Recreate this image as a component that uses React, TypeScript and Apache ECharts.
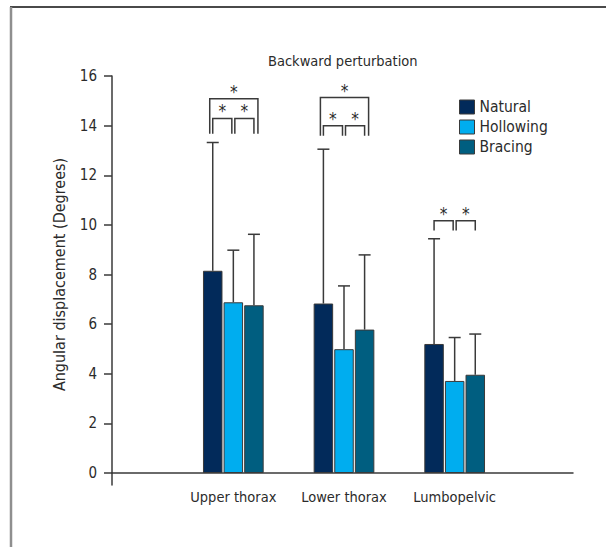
import React, { useEffect, useRef } from "react";
import * as echarts from "echarts";

const categories = ["Upper thorax", "Lower thorax", "Lumbopelvic"];
const seriesNames = ["Natural", "Hollowing", "Bracing"];
const seriesColors = ["#022a5a", "#00adef", "#005e80"];

const naturalMean = [8.15, 6.83, 5.2];
const hollowingMean = [6.88, 4.99, 3.71];
const bracingMean = [6.76, 5.78, 3.96];

const naturalUpper = [13.32, 13.05, 9.44];
const hollowingUpper = [8.98, 7.54, 5.46];
const bracingUpper = [9.62, 8.79, 5.6];

const yMin = 0;
const yMax = 16;
const yInterval = 2;

// significance brackets: category, from bar, to bar, top value, leg bottom value
const bracketCategory = [0, 0, 0, 1, 1, 1, 2, 2];
const bracketFrom = [0, 0, 1, 0, 0, 1, 0, 1];
const bracketTo = [2, 1, 2, 2, 1, 2, 1, 2];
const bracketTop = [15.08, 14.29, 14.29, 15.13, 14.0, 14.0, 10.17, 10.17];
const bracketBase = [13.67, 13.67, 13.67, 13.59, 13.59, 13.59, 9.77, 9.77];

const FONT = "'DejaVu Sans Condensed', 'Liberation Sans', sans-serif";
const TEXT = "#2b2b2b";
const LINE = "#3a3a3a";
const BAR_W = 19.5;
const GAP_PX = 1.1;
const STEP = BAR_W + GAP_PX;

export default function App() {
  const ref = useRef<HTMLDivElement>(null);

  useEffect(() => {
    if (!ref.current) return;
    const chart = echarts.init(ref.current, undefined, { renderer: "svg" });

    const means = [naturalMean, hollowingMean, bracingMean];
    const uppers = [naturalUpper, hollowingUpper, bracingUpper];

    const errData: number[][] = [];
    means.forEach((m, s) => {
      m.forEach((v, c) => errData.push([c, s, v, uppers[s][c]]));
    });

    const bracketData = bracketCategory.map((c, i) => [
      c,
      bracketFrom[i],
      bracketTo[i],
      bracketTop[i],
      bracketBase[i],
    ]);

    const barSeries = seriesNames.map((name, s) => ({
      name,
      type: "bar",
      xAxisIndex: 0,
      yAxisIndex: 0,
      data: means[s],
      barWidth: BAR_W,
      barGap: `${(GAP_PX / BAR_W) * 100}%`,
      itemStyle: { color: seriesColors[s], borderColor: LINE, borderWidth: 1 },
      z: 3,
    }));

    const option: any = {
      animation: false,
      backgroundColor: "#ffffff",
      textStyle: { fontFamily: FONT },
      title: {
        text: "Backward perturbation",
        left: 263,
        top: 48,
        textStyle: { fontFamily: FONT, fontSize: 14.5, fontWeight: "normal", color: TEXT },
      },
      legend: {
        orient: "vertical",
        left: 454,
        top: 94,
        itemWidth: 15,
        itemHeight: 14,
        itemGap: 4,
        icon: "rect",
        data: seriesNames,
        itemStyle: { borderColor: LINE, borderWidth: 1 },
        textStyle: { fontFamily: FONT, fontSize: 15.5, lineHeight: 14, color: TEXT },
      },
      grid: [
        { left: 178, right: 96, top: 76, bottom: 74 },
        { left: 112, right: 33, top: 473, height: 12 },
      ],
      xAxis: [
        {
          type: "category",
          gridIndex: 0,
          data: categories,
          axisLine: { show: false },
          axisTick: { show: false },
          axisLabel: { fontFamily: FONT, fontSize: 14.5, color: TEXT, margin: 16, interval: 0 },
        },
        {
          type: "value",
          gridIndex: 1,
          position: "top",
          min: 0,
          max: 1,
          axisLine: { show: true, onZero: false, lineStyle: { color: LINE, width: 1.5 } },
          axisTick: { show: false },
          axisLabel: { show: false },
          splitLine: { show: false },
        },
      ],
      yAxis: [
        {
          type: "value",
          gridIndex: 0,
          min: yMin,
          max: yMax,
          interval: yInterval,
          offset: 66,
          name: "Angular displacement (Degrees)",
          nameLocation: "middle",
          nameGap: 45,
          nameTextStyle: { fontFamily: FONT, fontSize: 16, color: TEXT },
          axisLine: { show: true, lineStyle: { color: LINE, width: 1.5 } },
          axisTick: { show: true, length: 8, lineStyle: { color: LINE, width: 1.5 } },
          axisLabel: { fontFamily: FONT, fontSize: 15, color: TEXT, margin: 15 },
          splitLine: { show: false },
        },
        {
          type: "value",
          gridIndex: 1,
          min: 0,
          max: 1,
          axisLine: { show: true, onZero: false, lineStyle: { color: LINE, width: 1.5 } },
          axisTick: { show: false },
          axisLabel: { show: false },
          splitLine: { show: false },
        },
      ],
      graphic: [
        { type: "line", shape: { x1: 10, y1: 7, x2: 606, y2: 7 }, style: { stroke: "#4a4a4a", lineWidth: 2 } },
        { type: "line", shape: { x1: 11, y1: 7, x2: 11, y2: 547 }, style: { stroke: "#8f8f8f", lineWidth: 2.5 } },
      ],
      series: [
        ...barSeries,
        {
          type: "custom",
          xAxisIndex: 0,
          yAxisIndex: 0,
          z: 2,
          data: errData,
          renderItem: (params: any, api: any) => {
            const c = api.value(0);
            const s = api.value(1);
            const p0 = api.coord([c, api.value(2)]);
            const p1 = api.coord([c, api.value(3)]);
            const x = p0[0] + (s - 1) * STEP;
            const st = { stroke: LINE, lineWidth: 1.5 };
            return {
              type: "group",
              children: [
                { type: "line", shape: { x1: x, y1: p0[1], x2: x, y2: p1[1] }, style: st },
                { type: "line", shape: { x1: x - 6, y1: p1[1], x2: x + 6, y2: p1[1] }, style: st },
              ],
            };
          },
        },
        {
          type: "custom",
          xAxisIndex: 0,
          yAxisIndex: 0,
          z: 4,
          data: bracketData,
          renderItem: (params: any, api: any) => {
            const c = api.value(0);
            const f = api.value(1);
            const t = api.value(2);
            const pTop = api.coord([c, api.value(3)]);
            const pBase = api.coord([c, api.value(4)]);
            let xl = pTop[0] + (f - 1) * STEP;
            let xr = pTop[0] + (t - 1) * STEP;
            if (t - f === 2) {
              xl -= 3;
              xr += 4;
            } else {
              if (f === 1) xl += 1.5;
              if (t === 1) xr -= 1.5;
            }
            const st = { stroke: LINE, lineWidth: 1.5, fill: "none" };
            return {
              type: "group",
              children: [
                {
                  type: "polyline",
                  shape: {
                    points: [
                      [xl, pBase[1]],
                      [xl, pTop[1]],
                      [xr, pTop[1]],
                      [xr, pBase[1]],
                    ],
                  },
                  style: st,
                },
                {
                  type: "text",
                  x: (xl + xr) / 2,
                  y: pTop[1] + 1.5,
                  style: {
                    text: "*",
                    fontFamily: FONT,
                    fontSize: 17,
                    fill: TEXT,
                    align: "center",
                    verticalAlign: "bottom",
                  },
                },
              ],
            };
          },
        },
      ],
    };

    chart.setOption(option);
    return () => chart.dispose();
  }, []);

  return (
    <div
      ref={ref}
      style={{ position: "fixed", left: 0, top: 0, width: 606, height: 547 }}
    />
  );
}
